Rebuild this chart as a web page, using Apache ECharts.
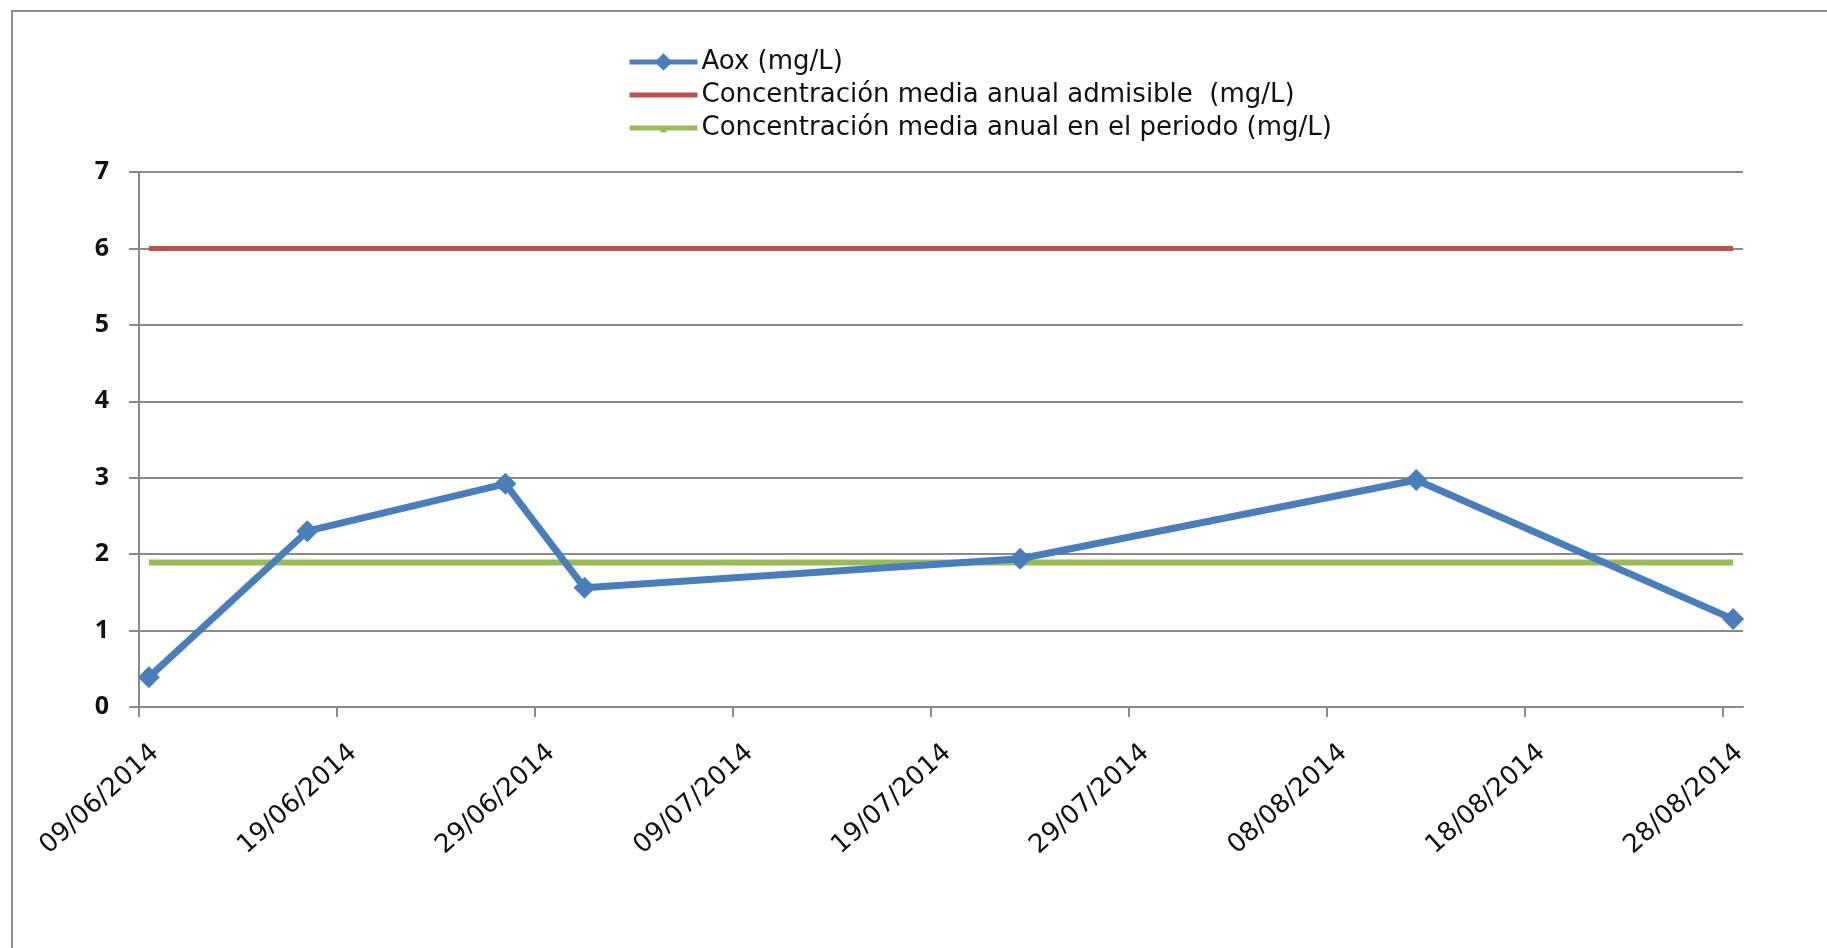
<!DOCTYPE html>
<html><head><meta charset="utf-8">
<script src="https://cdn.jsdelivr.net/npm/echarts@6/dist/echarts.min.js"></script>
<style>html,body{margin:0;padding:0;background:#fff}#c{width:1827px;height:948px}</style>
</head><body><div id="c"></div>
<script>
// ---- data ----
const dates = ['09/06/2014','17/06/2014','27/06/2014','01/07/2014','23/07/2014','12/08/2014','28/08/2014'];
const aox = [0.39, 2.30, 2.92, 1.56, 1.94, 2.97, 1.15];
const admisible = [6, 6, 6, 6, 6, 6, 6];
const mediaPeriodo = [1.89, 1.89, 1.89, 1.89, 1.89, 1.89, 1.89];
const tickLabels = ['09/06/2014','19/06/2014','29/06/2014','09/07/2014','19/07/2014','29/07/2014','08/08/2014','18/08/2014','28/08/2014'];
const axisEndDate = '29/08/2014';
const seriesNames = ['Aox (mg/L)', 'Concentración media anual admisible  (mg/L)', 'Concentración media anual en el periodo (mg/L)'];
const yTicks = [0, 1, 2, 3, 4, 5, 6, 7];

function toMs(s){ const p = s.split('/'); return Date.UTC(+p[2], +p[1]-1, +p[0]); }
const startMs = toMs(tickLabels[0]);
function dayOff(s){ return Math.round((toMs(s) - startMs) / 86400000); }
// Excel date axis places each day's point in the middle of its day slot
function pts(vals){ return dates.map((d,i)=>[dayOff(d) + 0.5, vals[i]]); }
const tickVals = tickLabels.map(dayOff);

const FONT = 'DejaVu Sans';
// legend icons: thick line inside a 68x22 box (degenerate corners keep the box size)
const ICON_LINE = 'path://M0,0L0.01,0L0,0Z M0,8.5L68,8.5L68,13.5L0,13.5Z M0,22L0.01,22L0,22Z';
const ICON_LINE_MARK = 'path://M0,0L0.01,0L0,0Z M0,8.5L68,8.5L68,13.5L37,13.5L37,15.5L31,15.5L31,13.5L0,13.5Z M0,22L0.01,22L0,22Z';

const chart = echarts.init(document.getElementById('c'), null, {renderer:'canvas'});
chart.setOption({
  animation: false,
  backgroundColor: '#fff',
  graphic: [{
    type: 'rect', silent: true, z: -1,
    shape: {x: 12, y: 11, width: 1900, height: 1000},
    style: {fill: 'none', stroke: '#8e8e8e', lineWidth: 2}
  }],
  legend: {
    orient: 'vertical', left: 622, top: 44, itemGap: 7,
    itemWidth: 68, itemHeight: 22,
    lineStyle: {width: 5},
    textStyle: {fontFamily: FONT, fontSize: 26, color: '#111', lineHeight: 26, padding: [0,0,0,-1]},
    data: [
      {name: seriesNames[0]},
      {name: seriesNames[1], icon: ICON_LINE},
      {name: seriesNames[2], icon: ICON_LINE_MARK}
    ]
  },
  grid: {left: 139, right: 84, top: 172, bottom: 241, containLabel: false},
  xAxis: {
    type: 'value', min: 0, max: dayOff(axisEndDate), interval: 10,
    axisLine: {show: true, onZero: false, lineStyle: {color: '#8a8a8a', width: 2}},
    axisTick: {show: true, length: 10, customValues: tickVals, lineStyle: {color: '#8a8a8a', width: 2}},
    splitLine: {show: false},
    axisLabel: {
      customValues: tickVals, rotate: 42, margin: 57,
      padding: [0, -22, 0, 0],
      fontFamily: FONT, fontSize: 26, color: '#111',
      formatter: v => tickLabels[tickVals.indexOf(v)] || ''
    }
  },
  yAxis: {
    type: 'value', min: yTicks[0], max: yTicks[yTicks.length-1], interval: 1,
    axisLine: {show: true, lineStyle: {color: '#8a8a8a', width: 2}},
    axisTick: {show: true, length: 10, lineStyle: {color: '#8a8a8a', width: 2}},
    splitLine: {show: true, lineStyle: {color: '#8a8a8a', width: 2}},
    axisLabel: {margin: 30, fontFamily: 'Open Sans', fontSize: 25, color: '#111', fontWeight: 'bold'}
  },
  series: [
    {name: seriesNames[0], type: 'line', data: pts(aox), z: 5,
     symbol: 'diamond', symbolSize: 22, showAllSymbol: true,
     lineStyle: {color: '#4A7EBB', width: 7}, itemStyle: {color: '#4A7EBB'}},
    {name: seriesNames[1], type: 'line', data: pts(admisible), symbol: 'none',
     lineStyle: {color: '#C0504D', width: 5}, itemStyle: {color: '#C0504D'}},
    {name: seriesNames[2], type: 'line', data: pts(mediaPeriodo), symbol: 'none',
     lineStyle: {color: '#9BBB59', width: 6}, itemStyle: {color: '#9BBB59'}}
  ]
});
</script></body></html>
